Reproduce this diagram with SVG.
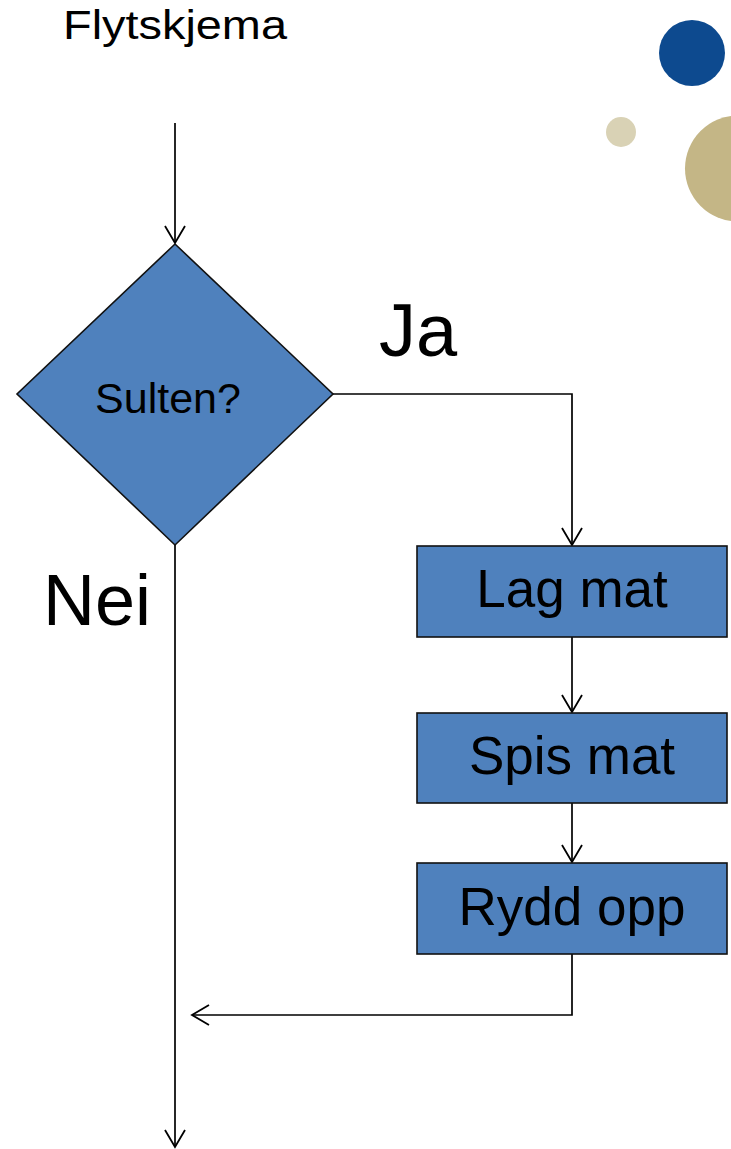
<svg xmlns="http://www.w3.org/2000/svg" width="731" height="1149" viewBox="0 0 731 1149">
  <style>
    .shape { fill: #4F81BD; stroke: #111; stroke-width: 1.6; }
    .conn { fill: none; stroke: #000; stroke-width: 1.7; }
    .t { font-family: "Liberation Sans", Arial, sans-serif; fill: #000; }
  </style>
  <defs>
    <marker id="arr" markerUnits="userSpaceOnUse" markerWidth="24" markerHeight="24" viewBox="-20 -12 24 24" refX="0" refY="0" orient="auto">
      <path d="M-17,-10 L0,0 L-17,10" fill="none" stroke="#000" stroke-width="1.8"/>
    </marker>
  </defs>
  <rect width="731" height="1149" fill="#fff"/>
  <g id="decor">
    <circle cx="692" cy="53" r="33" fill="#0D4A8F"/>
    <circle cx="621" cy="132" r="15" fill="#D9D2B5"/>
    <circle cx="738" cy="168.5" r="53" fill="#C4B686"/>
  </g>
  <text class="t" x="63" y="39" font-size="40" textLength="224" lengthAdjust="spacingAndGlyphs">Flytskjema</text>
  <g id="connectors">
    <path class="conn" d="M175,123 L175,243" marker-end="url(#arr)"/>
    <path class="conn" d="M333,394 L572,394 L572,545" marker-end="url(#arr)"/>
    <path class="conn" d="M572,637 L572,712" marker-end="url(#arr)"/>
    <path class="conn" d="M572,803 L572,862" marker-end="url(#arr)"/>
    <path class="conn" d="M572,954 L572,1015 L192,1015" marker-end="url(#arr)"/>
    <path class="conn" d="M175,545 L175,1147" marker-end="url(#arr)"/>
  </g>
  <g id="sulten">
    <polygon class="shape" points="175,244 333,394 175,545 17,394"/>
    <text class="t" x="168" y="413" font-size="43" text-anchor="middle">Sulten?</text>
  </g>
  <text class="t" x="379" y="356" font-size="74">Ja</text>
  <text class="t" x="43" y="625" font-size="72">Nei</text>
  <g id="lagmat">
    <rect class="shape" x="417" y="546" width="310" height="91"/>
    <text class="t" x="572" y="607" font-size="53" text-anchor="middle">Lag mat</text>
  </g>
  <g id="spismat">
    <rect class="shape" x="417" y="713" width="310" height="90"/>
    <text class="t" x="572" y="774" font-size="53" text-anchor="middle">Spis mat</text>
  </g>
  <g id="ryddopp">
    <rect class="shape" x="417" y="863" width="310" height="91"/>
    <text class="t" x="572" y="925" font-size="53" text-anchor="middle">Rydd opp</text>
  </g>
</svg>
